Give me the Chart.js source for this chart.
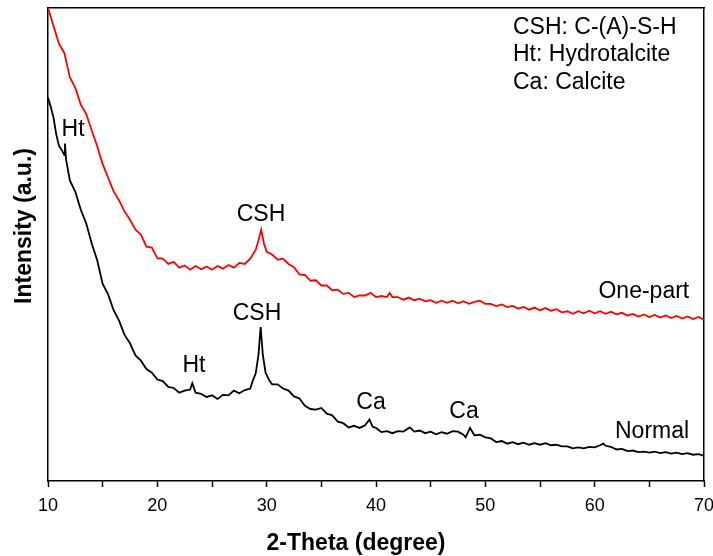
<!DOCTYPE html>
<html>
<head>
<meta charset="utf-8">
<script src="https://cdn.jsdelivr.net/npm/chart.js@4.4.1/dist/chart.umd.min.js"></script>
<style>
  html, body { margin: 0; padding: 0; background: #fff; }
  #wrap { width: 713px; height: 556px; position: relative; }
</style>
</head>
<body>
<div id="wrap"><canvas id="c"></canvas></div>
<script>
// ---- Data (2-Theta in degrees, intensity in arbitrary units) ----
const onePartTheta = [10,10.5,11,11.5,12,12.5,13,13.5,14,14.5,15,15.5,16,16.5,17,17.5,18,18.5,19,19.5,20,20.5,21,21.5,22,22.5,23,23.5,24,24.5,25,25.5,26,26.5,27,27.5,28,28.5,29,29.25,29.5,29.75,30,30.5,31,31.5,32,32.5,33,33.5,34,34.5,35,35.5,36,36.5,37,37.5,38,38.5,39,39.5,40,40.5,41,41.25,41.5,42,42.5,43,43.5,44,44.5,45,45.5,46,46.5,47,47.5,48,48.5,49,49.5,50,50.5,51,51.5,52,52.5,53,53.5,54,54.5,55,55.5,56,56.5,57,57.5,58,58.5,59,59.5,60,60.5,61,61.5,62,62.5,63,63.5,64,64.5,65,65.5,66,66.5,67,67.5,68,68.5,69,69.5,70];
const onePartIntensity = [900,866,832,814,768,748,716,698,667,637,603,577,551,534,513,497,478,469,446,444,424,423,413,417,406,410,402,409,403,408,402,409,404,411,406,415,413,423,440,458,478,452,436,431,421,423,413,407,393,392,381,382,372,372,363,364,356,358,350,353,353,358,350,352,350,358,350,350,345,349,344,347,342,344,339,343,339,343,338,342,337,341,343,337,337,333,336,331,333,328,331,326,330,325,329,324,327,321,323,318,323,319,324,319,323,318,322,317,320,315,318,313,317,312,316,311,315,310,314,309,313,308,312,307];

const normalTheta = [10,10.25,10.5,10.75,11,11.25,11.5,11.55,11.65,12,12.5,13,13.5,14,14.5,15,15.5,16,16.5,17,17.5,18,18.5,19,19.5,20,20.5,21,21.5,22,22.5,23,23.2,23.5,24,24.5,25,25.5,26,26.5,27,27.5,28,28.5,28.75,29,29.25,29.45,29.65,29.9,30.25,30.5,31,31.5,32,32.5,33,33.5,34,34.5,35,35.5,36,36.5,37,37.5,38,38.5,39,39.4,39.7,40,40.5,41,41.5,42,42.5,43.1,43.5,44,44.5,45,45.5,46,46.5,47,47.5,48,48.2,48.6,49,49.5,50,50.5,51,51.5,52,52.5,53,53.5,54,54.5,55,55.5,56,56.5,57,57.5,58,58.5,59,59.5,60,60.5,60.8,61,61.5,62,62.5,63,63.5,64,64.5,65,65.5,66,66.5,67,67.5,68,68.5,69,69.5,70];
const normalIntensity = [729,712,692,660,638,630,620,642,612,572,550,516,490,452,420,375,355,325,305,278,262,239,229,213,206,193,190,179,177,168,172,174,186,168,166,160,163,156,164,163,172,167,173,176,192,205,240,293,240,206,191,184,184,176,172,161,157,143,137,136,139,128,125,113,110,102,105,101,106,117,103,101,93,95,91,95,94,102,94,96,91,94,89,93,90,95,94,88,83,101,87,88,83,81,74,76,71,74,70,73,69,72,69,72,68,69,66,66,62,64,62,65,64,68,71,67,65,60,61,57,58,55,56,54,56,53,55,52,54,51,53,50,51,48];

// ---- Text labels placed in data coordinates ----
const peakLabels = ['Ht', 'CSH', 'CSH', 'Ht', 'Ca', 'Ca', 'Normal', 'One-part'];
const peakLabelTheta = [12.29, 29.48, 29.12, 23.35, 39.54, 48.05, 65.25, 64.5];
const peakLabelIntensity = [668, 506, 318, 219, 150, 131, 93, 361];

const keyLines = ['CSH: C-(A)-S-H', 'Ht: Hydrotalcite', 'Ca: Calcite'];
const keyTheta = 52.53;
const keyIntensity = [862, 811, 757];

const xTitle = '2-Theta (degree)';
const yTitle = 'Intensity (a.u.)';
const FONT = '"Liberation Sans", Arial, Helvetica, sans-serif';

const toXY = (xs, ys) => xs.map((x, i) => ({ x: x, y: ys[i] }));

const textPlugin = {
  id: 'textLabels',
  afterDatasetsDraw(chart) {
    const { ctx, scales } = chart;
    const sx = scales.x, sy = scales.y;
    ctx.save();
    ctx.fillStyle = '#000';
    ctx.textBaseline = 'middle';
    ctx.font = '23px ' + FONT;
    ctx.textAlign = 'center';
    peakLabels.forEach((t, i) => {
      ctx.fillText(t, sx.getPixelForValue(peakLabelTheta[i]), sy.getPixelForValue(peakLabelIntensity[i]));
    });
    ctx.textAlign = 'left';
    keyLines.forEach((t, i) => {
      ctx.fillText(t, sx.getPixelForValue(keyTheta), sy.getPixelForValue(keyIntensity[i]));
    });
    // axis titles
    ctx.font = 'bold 23px ' + FONT;
    ctx.textAlign = 'center';
    ctx.fillText(xTitle, 356, 544);
    ctx.translate(25, 226);
    ctx.rotate(-Math.PI / 2);
    ctx.fillText(yTitle, 0, 0);
    ctx.restore();
  }
};

new Chart(document.getElementById('c'), {
  type: 'line',
  data: {
    datasets: [
      { label: 'One-part', data: toXY(onePartTheta, onePartIntensity), borderColor: '#ff0000', borderWidth: 1.8, pointRadius: 0, tension: 0, fill: false },
      { label: 'Normal', data: toXY(normalTheta, normalIntensity), borderColor: '#000000', borderWidth: 1.8, pointRadius: 0, tension: 0, fill: false }
    ]
  },
  options: {
    responsive: true,
    maintainAspectRatio: false,
    animation: false,
    events: [],
    layout: { padding: { top: 8, right: 9, left: 0, bottom: 0 } },
    plugins: { legend: { display: false }, tooltip: { enabled: false } },
    scales: {
      x: {
        type: 'linear', position: 'bottom', min: 10, max: 70,
        afterFit: s => { s.height = 75; s.paddingLeft = 0; s.paddingRight = 0; },
        ticks: {
          stepSize: 5, autoSkip: false, maxRotation: 0, color: '#000', padding: 8,
          font: { family: FONT, size: 18 },
          callback: v => (v % 10 === 0 ? String(v) : '')
        },
        grid: { drawOnChartArea: false, drawTicks: true, tickLength: 6, color: '#000', tickWidth: 1.5 },
        border: { display: true, color: '#000', width: 1.5 }
      },
      y: {
        type: 'linear', position: 'left', min: 0, max: 900,
        afterFit: s => { s.width = 48; },
        ticks: { display: false },
        grid: { drawOnChartArea: false, drawTicks: false },
        border: { display: true, color: '#000', width: 1.5 }
      },
      xTop: {
        type: 'linear', position: 'top', min: 10, max: 70,
        afterFit: s => { s.height = 0; s.paddingLeft = 0; s.paddingRight = 0; },
        ticks: { display: false },
        grid: { drawOnChartArea: false, drawTicks: false },
        border: { display: true, color: '#000', width: 1.5 }
      },
      yRight: {
        type: 'linear', position: 'right', min: 0, max: 900,
        afterFit: s => { s.width = 0; },
        ticks: { display: false },
        grid: { drawOnChartArea: false, drawTicks: false },
        border: { display: true, color: '#000', width: 1.5 }
      }
    }
  },
  plugins: [textPlugin]
});
</script>
</body>
</html>
